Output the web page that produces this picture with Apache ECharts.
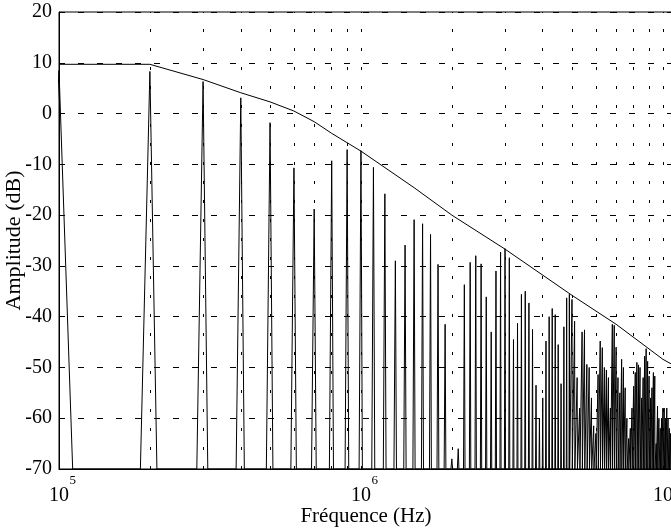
<!DOCTYPE html>
<html>
<head>
<meta charset="utf-8">
<title>Spectre</title>
<script src="https://cdn.jsdelivr.net/npm/echarts@6/dist/echarts.min.js"></script>
<style>
html, body { margin: 0; padding: 0; background: #fff; }
#main { width: 671px; height: 532px; }
</style>
</head>
<body>
<div id="main"></div>
<script>
// harmonics of the 100 kHz fundamental, peak level in dB
var fundamental = 1e5;
var peakDb = [
    8.5, 8.3, 6.3, 3.1, -1.8, -10.7, -18.8, -9.3, -7.1, -7.3,
    -10.6, -15.8, -29, -25.9, -20.9, -21.7, -23.8, -29.7, -41.5, -68,
    -66, -33.7, -29.3, -28, -29.6, -36.1, -43, -31, -27.3, -26.6,
    -28.4, -44.5, -41.3, -35.6, -35, -37.3, -42.5, -53.5, -60, -56,
    -44.8, -40, -38.4, -39.6, -45.5, -53.2, -42, -36.3, -35.6, -36.6,
    -40.9, -52, -58, -43, -42.6, -49.4, -50, -56, -61.5, -63,
    -51.4, -44.8, -46.1, -50, -50.5, -52, -58, -41.5, -41.7, -46,
    -52, -55, -48.4, -50, -54, -60, -64, -62, -58, -53.7,
    -51, -49, -49.5, -50, -56, -52, -47.8, -46.3, -48.8, -51.7,
    -56, -54, -51, -51.7, -65, -57.6, -60, -62, -60, -58,
    -58, -60, -58, -60, -62, -63
];
// spectral line foot, below / above the harmonic (Hz)
var binLeft = 14000;
var binRight = 11000;

// upper bound (gabarit)
var envFreq = [1e5, 2e5, 3e5, 4e5, 5e5, 6e5, 7e5, 8e5, 1e6, 1.5e6, 2e6, 3e6, 5e6, 7e6, 1e7, 1.08e7];
var envDb = [9.7, 9.7, 6.7, 4.1, 2.3, 0.5, -1.6, -3.9, -7.4, -14.6, -20, -26.7, -35.8, -41.5, -48.4, -49.5];

// dotted vertical grid
var gridFreqs = [2e5, 3e5, 4e5, 5e5, 6e5, 7e5, 8e5, 9e5, 1e6,
                 2e6, 3e6, 4e6, 5e6, 6e6, 7e6, 8e6, 9e6, 1e7];

var spectrum = [];
peakDb.forEach(function (db, i) {
    var f = fundamental * (i + 1);
    spectrum.push([f - binLeft, -70], [f, db], [f + binRight, -70]);
});
var envelope = envFreq.map(function (f, i) { return [f, envDb[i]]; });

var serif = 'Liberation Serif';
var chart = echarts.init(document.getElementById('main'));
chart.setOption({
    animation: false,
    backgroundColor: '#fff',
    grid: {
        left: 59, top: 12, right: -2, bottom: 63,
        outerBoundsMode: 'none', containLabel: false,
        show: true, borderColor: '#000', borderWidth: 1
    },
    xAxis: {
        type: 'log',
        logBase: 10,
        min: 1e5,
        max: 1.08e7,
        axisLine: { show: true, onZero: false, lineStyle: { color: '#000', width: 1 } },
        axisTick: { show: false },
        splitLine: { show: false },
        axisLabel: {
            margin: 7,
            hideOverlap: false,
            formatter: function (v) {
                var e = Math.log(v) / Math.LN10;
                if (Math.abs(e - Math.round(e)) > 1e-6) return '';
                // exponent on its own line, pushed to the right of "10"
                return '{s|' + Math.round(e) + '}\n{b|10}';
            },
            rich: {
                b: { fontFamily: serif, fontSize: 20, color: '#000', lineHeight: 20 },
                s: { fontFamily: serif, fontSize: 13, color: '#000', lineHeight: 10, width: 34, align: 'right' }
            }
        },
        name: 'Fréquence (Hz)',
        nameLocation: 'middle',
        nameGap: 37,
        nameMoveOverlap: false,
        nameTextStyle: { fontFamily: serif, fontSize: 21, color: '#000' }
    },
    yAxis: {
        type: 'value',
        min: -70,
        max: 20,
        interval: 10,
        axisLine: { show: true, lineStyle: { color: '#000', width: 1 } },
        axisTick: { show: false },
        splitLine: { show: true, lineStyle: { color: '#000', width: 1, type: [6, 13] } },
        axisLabel: { color: '#000', fontFamily: serif, fontSize: 20, margin: 7 },
        name: 'Amplitude (dB)',
        nameLocation: 'middle',
        nameGap: 34,
        nameMoveOverlap: false,
        nameTextStyle: { fontFamily: serif, fontSize: 22, color: '#000' }
    },
    series: [
        {
            type: 'line',
            data: spectrum,
            showSymbol: false,
            lineStyle: { color: '#000', width: 1 },
            z: 3,
            markLine: {
                silent: true,
                symbol: ['none', 'none'],
                label: { show: false },
                lineStyle: { color: '#000', width: 1, type: [3, 16] },
                data: gridFreqs.map(function (f) { return { xAxis: f }; })
            }
        },
        {
            type: 'line',
            data: envelope,
            showSymbol: false,
            lineStyle: { color: '#000', width: 1 },
            z: 4
        }
    ]
});
</script>
</body>
</html>
